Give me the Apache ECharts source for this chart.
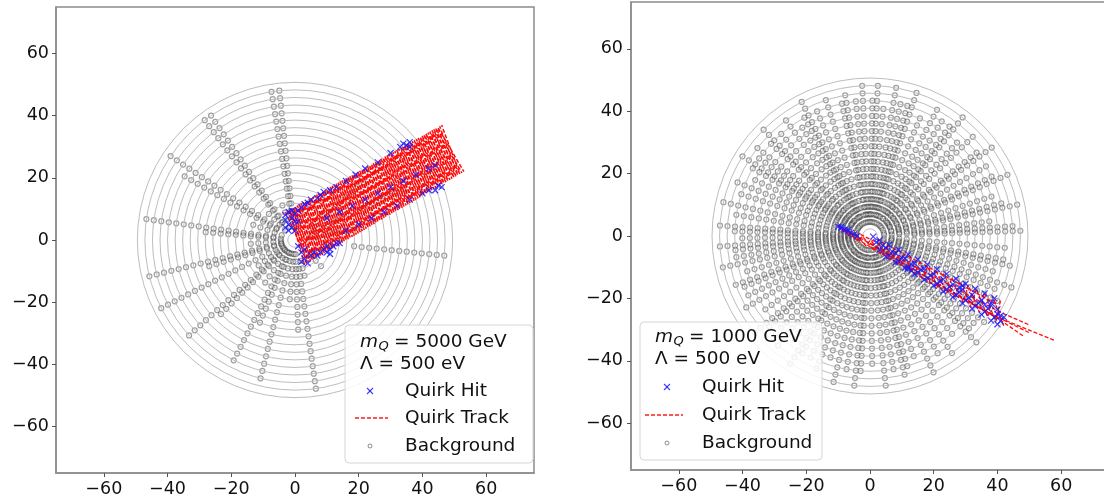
<!DOCTYPE html>
<html><head><meta charset="utf-8">
<script src="https://cdn.jsdelivr.net/npm/echarts@6/dist/echarts.min.js"></script>
<style>html,body{margin:0;padding:0;background:#fff}#c{width:1104px;height:498px}</style>
</head><body><div id="c"></div>
<script>
// ---------------- data ----------------
const tickValues = [-60, -40, -20, 0, 20, 40, 60];
const axisMin = -75, axisMax = 75;
const panelMass = ['5000', '1000'];
const panelLambda = ['500', '500'];

// detector layer radii
const layerRadii = [2.3, 4.5, 6.9, 9.3, 11.7, 14.1, 16.5, 18.9, 21.3, 23.7, 26.1, 28.5, 30.9, 33.3, 35.7, 38.1, 40.5, 42.9, 45.3, 47.7, 50.1];

// background hits: radial tracks [angle deg, first radius, last radius]
const bgSpokesLeft = [[96,9,48],[99,9,48],[124,6,50],[127,6,48],[146,5,48],[150,5,42],[172,5,49],[175,3,30],[160,3,15],[185,3,15],[194,4,48],[197,4,30],[207,4,49],[215,3,15],[222,4,46],[225,3,35],[235,3,18],[243,4,44],[247,3,30],[256,3,47],[265,3,20],[272,3,30],[278,8,48],[285,5,12],[315,5,14],[354,17,49],[110,3,14],[135,3,14],[10,3,20],[25,5,40],[40,5,30]];
const bgSpokesRight = [[2,12,48],[4,3,46],[12,3,48],[14,5,44],[24,3,48],[26,6,45],[36,3,48],[38,5,44],[44,4,47],[52,3,48],[54,6,44],[62,3,46],[72,3,48],[74,5,44],[80,4,48],[87,3,48],[89,5,45],[93,3,48],[100,3,47],[102,6,44],[108,4,46],[117,3,48],[119,5,44],[126,3,47],[135,3,48],[137,6,44],[142,4,46],[148,3,48],[150,5,45],[158,3,47],[167,4,48],[176,3,49],[178,6,45],[184,3,49],[186,6,44],[192,4,48],[200,3,47],[202,6,44],[210,3,47],[220,3,48],[222,5,44],[230,4,47],[238,3,48],[240,6,44],[248,3,47],[256,4,48],[264,3,48],[266,6,44],[276,3,48],[284,4,47],[286,6,43],[295,3,48],[305,4,47],[315,3,48],[317,6,44],[323,4,47],[333,3,47],[340,4,48],[348,3,47],[350,6,44],
 [7,8,40],[18,8,42],[31,6,44],[47,8,42],[58,8,44],[67,6,42],[77,8,44],[84,8,42],[96,6,44],[113,8,44],[122,6,42],[131,8,44],[145,6,44],[154,8,42],[162,6,44],[171,8,44],[181,6,42],[189,6,44],[196,8,42],[206,6,44],[215,8,42],[226,6,44],[234,8,42],[244,6,44],[252,8,42],[260,6,44],[271,8,42],[280,6,44],[290,8,42],[300,6,44],[310,8,42],[320,6,44],[328,8,42],[337,6,44],[344,8,42],[355,6,44]];

// quirk tracks (x, y)
const quirkTrackLeftA = [[-3,9],[4.25,-7.25],[-0.55,10.4],[6.75,-5.75],[1.9,11.8],[9.25,-4.25],[4.35,13.2],[11.75,-2.75],[6.8,14.6],[14.25,-1.25],[9.25,16],[16.75,0.25],[11.7,17.4],[19.25,1.75],[14.15,18.8],[21.75,3.25],[16.6,20.2],[24.25,4.75],[19.05,21.6],[26.75,6.25],[21.5,23],[29.25,7.75],[23.95,24.4],[31.75,9.25],[26.4,25.8],[34.25,10.75],[28.85,27.2],[36.75,12.25],[31.3,28.6],[39.25,13.75],[33.75,30],[41.75,15.25],[36.2,31.4],[44.25,16.75],[38.65,32.8],[46.75,18.25],[41.1,34.2],[49.25,19.75],[43.55,35.6],[51.75,21.25],[46,37]];
const quirkTrackLeftB = [[3,-8],[-1.775,9.7],[5.5,-6.5],[0.675,11.1],[8,-5],[3.125,12.5],[10.5,-3.5],[5.575,13.9],[13,-2],[8.025,15.3],[15.5,-0.5],[10.475,16.7],[18,1],[12.925,18.1],[20.5,2.5],[15.375,19.5],[23,4],[17.825,20.9],[25.5,5.5],[20.275,22.3],[28,7],[22.725,23.7],[30.5,8.5],[25.175,25.1],[33,10],[27.625,26.5],[35.5,11.5],[30.075,27.9],[38,13],[32.525,29.3],[40.5,14.5],[34.975,30.7],[43,16],[37.425,32.1],[45.5,17.5],[39.875,33.5],[48,19],[42.325,34.9],[50.5,20.5],[44.775,36.3],[53,22]];
const quirkTrackLeftC = [[-2.3875,9.35],[4.875,-6.875],[0.0625,10.75],[7.375,-5.375],[2.5125,12.15],[9.875,-3.875],[4.9625,13.55],[12.375,-2.375],[7.4125,14.95],[14.875,-0.875],[9.8625,16.35],[17.375,0.625],[12.3125,17.75],[19.875,2.125],[14.7625,19.15],[22.375,3.625],[17.2125,20.55],[24.875,5.125],[19.6625,21.95],[27.375,6.625],[22.1125,23.35],[29.875,8.125],[24.5625,24.75],[32.375,9.625],[27.0125,26.15],[34.875,11.125],[29.4625,27.55],[37.375,12.625],[31.9125,28.95],[39.875,14.125],[34.3625,30.35],[42.375,15.625],[36.8125,31.75],[44.875,17.125],[39.2625,33.15],[47.375,18.625],[41.7125,34.55],[49.875,20.125],[44.1625,35.95],[52.375,21.625]];
const quirkTrackLeftD = [[3.625,-7.625],[-1.1625,10.05],[6.125,-6.125],[1.2875,11.45],[8.625,-4.625],[3.7375,12.85],[11.125,-3.125],[6.1875,14.25],[13.625,-1.625],[8.6375,15.65],[16.125,-0.125],[11.0875,17.05],[18.625,1.375],[13.5375,18.45],[21.125,2.875],[15.9875,19.85],[23.625,4.375],[18.4375,21.25],[26.125,5.875],[20.8875,22.65],[28.625,7.375],[23.3375,24.05],[31.125,8.875],[25.7875,25.45],[33.625,10.375],[28.2375,26.85],[36.125,11.875],[30.6875,28.25],[38.625,13.375],[33.1375,29.65],[41.125,14.875],[35.5875,31.05],[43.625,16.375],[38.0375,32.45],[46.125,17.875],[40.4875,33.85],[48.625,19.375],[42.9375,35.25],[51.125,20.875],[45.3875,36.65]];
const quirkTrackRightA = [[-10,3.5],[-6.45,-0.025],[-4.9,1.1],[-1.35,-3.075],[0.2,-1.3],[3.75,-6.125],[5.3,-3.7],[8.85,-9.175],[10.4,-6.1],[13.95,-12.225],[15.5,-8.5],[19.05,-15.275],[20.6,-10.9],[24.15,-18.325],[25.7,-13.3],[29.25,-21.375],[30.8,-15.7],[34.35,-24.425],[35.9,-18.1],[39.45,-27.475],[41,-20.5]];
const quirkTrackRightB = [[-9,1.5],[-7.45,2.3],[-3.9,-1.55],[-2.35,-0.1],[1.2,-4.6],[2.75,-2.5],[6.3,-7.65],[7.85,-4.9],[11.4,-10.7],[12.95,-7.3],[16.5,-13.75],[18.05,-9.7],[21.6,-16.8],[23.15,-12.1],[26.7,-19.85],[28.25,-14.5],[31.8,-22.9],[33.35,-16.9],[36.9,-25.95],[38.45,-19.3],[42,-29]];
const quirkTrackRightLines = [[[-10,3],[20,-13],[41,-24.5],[50,-28.5]], [[0,-2.5],[20,-14.5],[40,-26],[58,-33.5]], [[-9,2],[20,-15.5],[39,-25.5],[50,-31]], [[5,-5.5],[25,-17.5],[41,-27],[48,-32]], [[-3,0.5],[4,-3]], [[2,-1],[22,-12],[40,-22]]];

// quirk hits (x, y)
const quirkHitsLeft = [[-3,8],[-2,9],[-3,6.5],[-2,5],[-1,7],[0,8.5],[-1,4],[0,3],[1,6],[1,9.5],[2,10.5],[-2,3],[0,6],[-3,4],[-1,9.5],
 [3,11.5],[4,12],[5,13],[7,13.5],[8,14.5],[9,15.5],[11,16],[13,17],[16,19],[19,21],[22,23],[26,25],[30,28],[33,30],[34,31],[35,30.5],[36,31.5],[36,30],
 [1,-2],[2,-4],[3,-6],[2,-7],[4,-7.5],[3,-3],[5,-5],[6,-4],[7,-5],[8,-4],[9,-3],[10,-4],[11,-3],[12,-2],[13,-1],[14,-1],[10,-2],[11,-4.5],
 [10,7],[14,9],[18,11],[22,13],[26,15],[30,17],[34,19],[38,21],[42,23],[44,24],
 [16,3],[20,5],[24,7],[28,9],[32,11],[36,13],[40,15],[44,16],[46,17],[42,16],[45,17.5]];
const quirkHitsRight = [[-10,3],[-9,2.5],[-8,2],[-7,1.5],[-6,1],[-5,0.5],[-4,0],[-9,3],[-7,2],
 [2,-2],[5,-3.8],[8,-5.5],[11,-7.2],[14,-8.8],[17,-10.5],[20,-12.2],[23,-13.9],[26,-15.5],[29,-17.2],[32,-18.9],[35,-20.6],[38,-22.3],[40,-23.5],
 [3,-4.5],[6,-6.3],[9,-8.1],[12,-9.9],[15,-11.7],[18,-13.5],[21,-15.3],[24,-17.1],[27,-18.9],[30,-20.7],[33,-22.5],[36,-24.3],[39,-26.1],[41,-27.3],
 [4,-3],[7,-5],[10,-7],[13,-9],[16,-10.8],[19,-12.7],[22,-14.5],[25,-16.3],[28,-18],[31,-19.8],[34,-21.5],[37,-23.3],[40,-25],
 [12,-10.5],[13,-11],[28,-16.5],[29,-16],[38,-21.5],[36,-22],[41,-25.5],[42,-26],
 [1,-0.2],[3,-1.3],[6,-2.8],[9,-4.4],[12,-5.9],[15,-7.5],[18,-9.1],[21,-10.6],[24,-12.2],[27,-13.7],[30,-15.3],[33,-16.9],[36,-18.4],[39,-20],
 [5,-6.6],[8,-8.5],[11,-10.3],[14,-12.2],[17,-14.0],[20,-15.9],[23,-17.8],[26,-19.6],[29,-21.5],[32,-23.3],[35,-25.2],[38,-27.1],[40,-28.3]];

// ---------------- build ----------------
function spokeHits(spokes) {
  const out = [];
  spokes.forEach(([a, r0, r1]) => layerRadii.forEach(r => { if (r >= r0 && r <= r1) out.push([r, a]); }));
  return out;
}
const FONT = 'DejaVu Sans';
const grids = [
  {left: 56, top: 7, width: 478, height: 466},
  {left: 631, top: 2, width: 478, height: 468}
];
function pxPerUnit(g) { return (g.width / (axisMax - axisMin) + g.height / (axisMax - axisMin)) / 2; }
const polarMax = 60;

const fmt = v => v < 0 ? '\u2212' + Math.abs(v) : String(v);
function mkX(i) {
  return {gridIndex: i, type: 'value', min: axisMin, max: axisMax,
    axisLine: {show: true, onZero: false, lineStyle: {color: '#8c8c8c', width: 1.5}},
    axisTick: {show: true, customValues: tickValues, length: 4, lineStyle: {color: '#555'}},
    axisLabel: {customValues: tickValues, formatter: fmt, fontSize: 17.5, fontFamily: FONT, color: '#111', margin: 7},
    splitLine: {show: false}};
}
function mkY(i) {
  const a = mkX(i);
  a.axisLabel = Object.assign({}, a.axisLabel, {margin: i === 0 ? 7 : 8});
  return a;
}

const series = [];
const bgSets = [spokeHits(bgSpokesLeft), spokeHits(bgSpokesRight)];
const trackSets = [[quirkTrackLeftA, quirkTrackLeftB, quirkTrackLeftC, quirkTrackLeftD], [quirkTrackRightA, quirkTrackRightB].concat(quirkTrackRightLines)];
const hitSets = [quirkHitsLeft, quirkHitsRight];

[0, 1].forEach(i => {
  series.push({name: 'Background', type: 'scatter', coordinateSystem: 'polar', polarIndex: i,
    data: bgSets[i], symbol: 'circle', symbolSize: 5, silent: true, z: 2, large: false,
    itemStyle: {color: 'rgba(0,0,0,0)', borderColor: 'rgba(70,70,70,0.65)', borderWidth: 1.25}});
  series.push({name: 'Layers', type: 'custom', coordinateSystem: 'polar', polarIndex: i,
    data: layerRadii.map(r => [r, 0]), silent: true, z: 3,
    renderItem: (params, api) => {
      const cs = params.coordSys;
      const p = api.coord([api.value(0), 0]);
      const r = Math.hypot(p[0] - cs.cx, p[1] - cs.cy);
      return {type: 'circle', shape: {cx: cs.cx, cy: cs.cy, r: r},
        style: {fill: 'none', stroke: '#bdbdbd', lineWidth: 1}};
    }});
  trackSets[i].forEach(tr => series.push({name: 'Quirk Track', type: 'line', xAxisIndex: i, yAxisIndex: i,
    data: tr, symbol: 'none', silent: true, z: 4,
    lineStyle: {color: '#ff0000', width: i === 0 ? 1.5 : 1.3, type: [4, 2], opacity: 0.95}}));
  series.push({name: 'Quirk Hit', type: 'scatter', xAxisIndex: i, yAxisIndex: i, data: hitSets[i],
    symbol: 'path://M0,0L10,10M10,0L0,10', symbolSize: 6, silent: true, z: 5,
    itemStyle: {color: 'rgba(0,0,0,0)', borderColor: '#1a1aff', borderWidth: 1.2, opacity: 0.85}});
});

// legend boxes (drawn as graphics)
const legendLayout = [
  {box: [345, 325, 188, 138], x0: 360, y1: 342, y2: 364, mx: 370, tx: 405, ys: [391, 418, 446], dash: [355, 388]},
  {box: [640, 322, 182, 138], x0: 655, y1: 337, y2: 359, mx: 667, tx: 702, ys: [387, 415, 443], dash: [645, 683]}
];
const graphic = [];
legendLayout.forEach((L, i) => {
  const ts = {fontSize: 18.5, fontFamily: FONT, fill: '#111', verticalAlign: 'middle'};
  graphic.push({type: 'rect', shape: {x: L.box[0], y: L.box[1], width: L.box[2], height: L.box[3], r: 4},
    style: {fill: 'rgba(255,255,255,0.85)', stroke: '#d6d6d6', lineWidth: 1}, z: 100});
  graphic.push({type: 'text', x: L.x0, y: L.y1, style: Object.assign({}, ts, {text: 'm', fontStyle: 'italic'}), z: 101});
  graphic.push({type: 'text', x: L.x0 + 18.5, y: L.y1 + 5, style: Object.assign({}, ts, {text: 'Q', fontStyle: 'italic', fontSize: 13}), z: 101});
  graphic.push({type: 'text', x: L.x0 + 34, y: L.y1, style: Object.assign({}, ts, {text: '= ' + panelMass[i] + ' GeV'}), z: 101});
  graphic.push({type: 'text', x: L.x0, y: L.y2, style: Object.assign({}, ts, {text: '\u039B = ' + panelLambda[i] + ' eV'}), z: 101});
  const s = 3;
  graphic.push({type: 'line', shape: {x1: L.mx - s, y1: L.ys[0] - s, x2: L.mx + s, y2: L.ys[0] + s}, style: {stroke: '#1a1aff', lineWidth: 1.1, opacity: 0.85}, z: 101});
  graphic.push({type: 'line', shape: {x1: L.mx - s, y1: L.ys[0] + s, x2: L.mx + s, y2: L.ys[0] - s}, style: {stroke: '#1a1aff', lineWidth: 1.1, opacity: 0.85}, z: 101});
  graphic.push({type: 'line', shape: {x1: L.dash[0], y1: L.ys[1], x2: L.dash[1], y2: L.ys[1]}, style: {stroke: '#ff0000', lineWidth: 1.3, lineDash: [4, 2], opacity: 0.9}, z: 101});
  graphic.push({type: 'circle', shape: {cx: L.mx, cy: L.ys[2], r: 2}, style: {fill: 'none', stroke: 'rgba(70,70,70,0.6)', lineWidth: 1}, z: 101});
  ['Quirk Hit', 'Quirk Track', 'Background'].forEach((t, k) => {
    graphic.push({type: 'text', x: L.tx, y: L.ys[k], style: Object.assign({}, ts, {text: t}), z: 101});
  });
});

const chart = echarts.init(document.getElementById('c'), null, {renderer: 'canvas'});
chart.setOption({
  animation: false,
  backgroundColor: '#ffffff',
  grid: grids.map(g => Object.assign({show: true, borderColor: '#8c8c8c', borderWidth: 1.5, backgroundColor: '#fff', containLabel: false, outerBoundsMode: 'none'}, g)),
  xAxis: [mkX(0), mkX(1)],
  yAxis: [mkY(0), mkY(1)],
  polar: grids.map(g => ({center: [g.left + g.width / 2, g.top + g.height / 2], radius: polarMax * pxPerUnit(g)})),
  angleAxis: [0, 1].map(i => ({polarIndex: i, type: 'value', min: 0, max: 360, startAngle: 0, clockwise: false, show: false,
    axisLine: {show: false}, splitLine: {show: false}, axisLabel: {show: false}, axisTick: {show: false}})),
  radiusAxis: [0, 1].map(i => ({polarIndex: i, type: 'value', min: 0, max: polarMax, show: false,
    axisLine: {show: false}, splitLine: {show: false}, axisLabel: {show: false}, axisTick: {show: false}})),
  series: series,
  graphic: graphic
});
</script>
</body></html>
